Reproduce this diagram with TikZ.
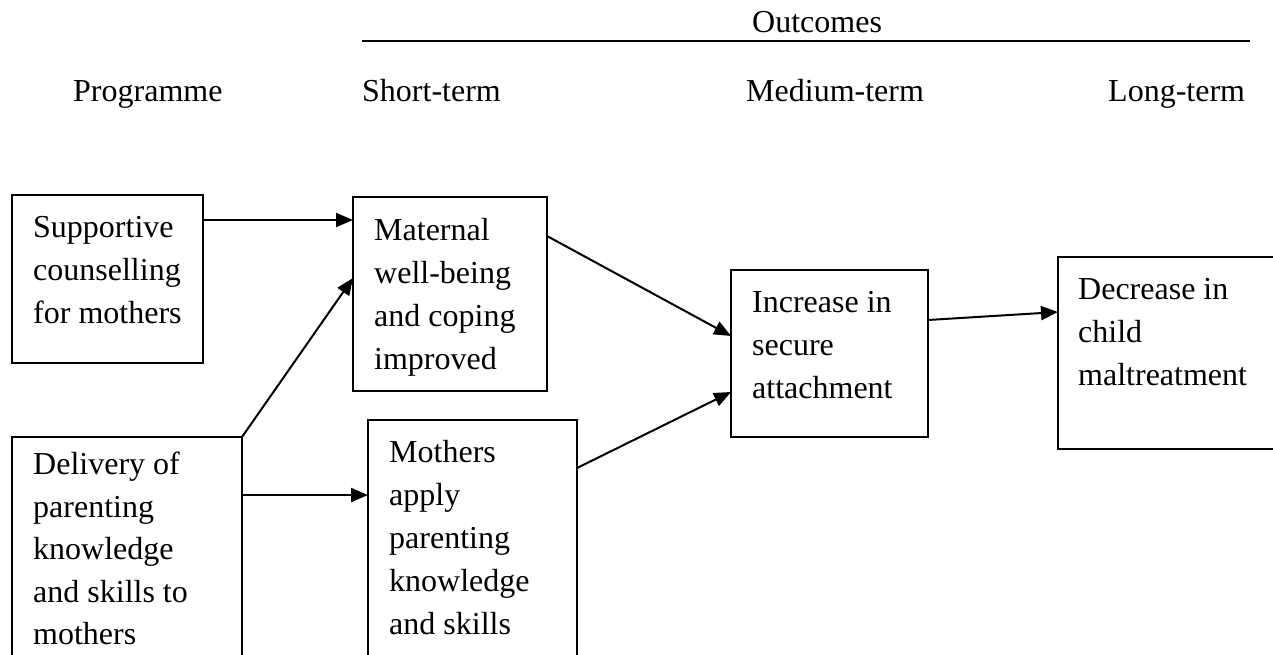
\documentclass[tikz,border=0pt]{standalone}
\usepackage{fontspec}
\setmainfont{Liberation Serif}
\usetikzlibrary{arrows.meta,calc}
\begin{document}
\begin{tikzpicture}[x=1pt,y=-1pt,
  txt/.style={font=\fontsize{32}{43}\selectfont, inner sep=0pt, align=left},
  boxnode/.style={draw, line width=2pt, inner sep=0pt, outer sep=0pt, anchor=north west},
  conn/.style={line width=2pt, -{Triangle[length=17pt,width=14pt]}},
  rule/.style={line width=2pt}
]
\useasboundingbox (0,0) rectangle (1273,654);
\clip (0,0) rectangle (1273,654);
\fill[white] (0,0) rectangle (1273,654);

% headings
\node[txt, anchor=base west] (outc) at (752,32) {Outcomes};
\coordinate (rs) at (362,41);
\coordinate (re) at (1250,41);
\draw[rule] (rs) -- (re);
\node[txt, anchor=base west] (hprog) at (73,101) {Programme};
\node[txt, anchor=base west] (hshort) at (362,101) {Short-term};
\node[txt, anchor=base west] (hmed) at (746,101) {Medium-term};
\node[txt, anchor=base west] (hlong) at (1108,101) {Long-term};

% boxes
\node[boxnode, minimum width=191pt, minimum height=168pt] (sup) at (12,195) {};
\node[boxnode, minimum width=230pt, minimum height=240pt] (del) at (12,437) {};
\node[boxnode, minimum width=194pt, minimum height=194pt] (mat) at (353,197) {};
\node[boxnode, minimum width=209pt, minimum height=250pt] (mot) at (368,420) {};
\node[boxnode, minimum width=197pt, minimum height=167pt] (inc) at (731,270) {};
\node[boxnode, minimum width=240pt, minimum height=192pt] (dec) at (1058,257) {};

% box texts
\node[txt, anchor=north west] (tsup) at ($(sup.north west)+(21,12)$) {\strut Supportive\\counselling\\for mothers};
\node[txt, anchor=north west, font=\fontsize{32}{42.5}\selectfont] (tdel) at ($(del.north west)+(21,8)$) {\strut Delivery of\\parenting\\knowledge\\and skills to\\mothers};
\node[txt, anchor=north west] (tmat) at ($(mat.north west)+(21,13)$) {\strut Maternal\\well-being\\and coping\\improved};
\node[txt, anchor=north west] (tmot) at ($(mot.north west)+(21,12)$) {\strut Mothers\\apply\\parenting\\knowledge\\and skills};
\node[txt, anchor=north west] (tinc) at ($(inc.north west)+(21,12)$) {\strut Increase in\\secure\\attachment};
\node[txt, anchor=north west] (tdec) at ($(dec.north west)+(20,12)$) {\strut Decrease in\\child\\maltreatment};

% connectors
\draw[conn] ($(sup.north east)+(0,25)$) -- ($(mat.north west)+(0,23)$);
\draw[conn] (del.north east) -- ($(mat.north west)+(0,81)$);
\draw[conn] ($(del.north east)+(0,58)$) -- ($(mot.north west)+(0,75)$);
\draw[conn] ($(mat.north east)+(0,39)$) -- ($(inc.north west)+(0,66)$);
\draw[conn] ($(mot.north east)+(0,48)$) -- ($(inc.north west)+(0,122)$);
\draw[conn] ($(inc.north east)+(0,50)$) -- ($(dec.north west)+(0,55)$);
\end{tikzpicture}
\end{document}
